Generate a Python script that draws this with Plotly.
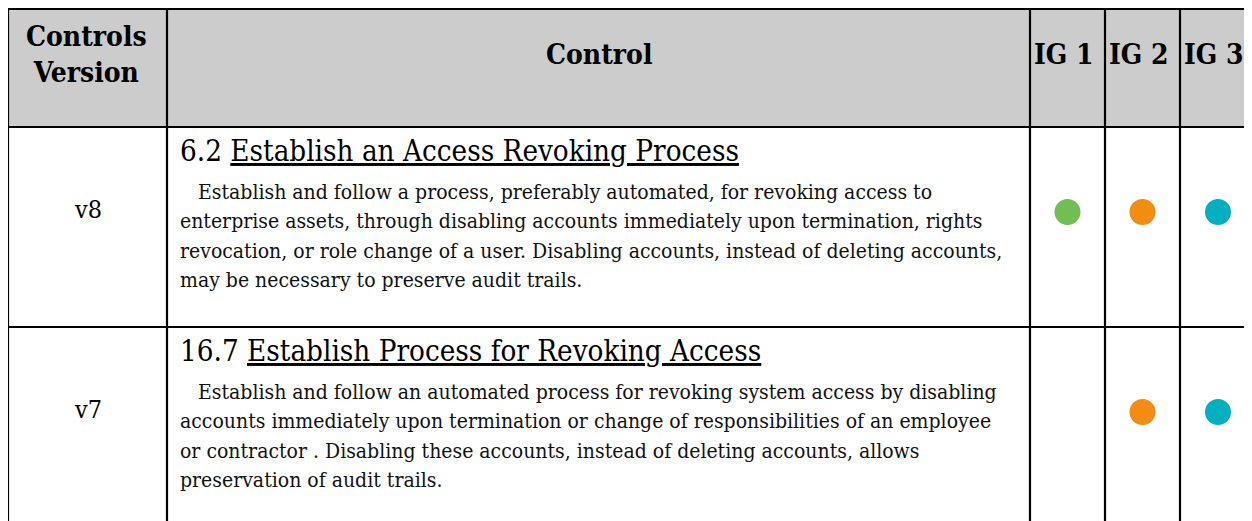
import plotly.graph_objects as go

# ---- data ----
header_labels = ["Controls<br>Version", "Control", "IG 1", "IG 2", "IG 3"]
versions = ["v8", "v7"]
control_ids = ["6.2", "16.7"]
control_titles = ["Establish an Access Revoking Process",
                  "Establish Process for Revoking Access"]
descriptions = [
    ["Establish and follow a process, preferably automated, for revoking access to",
     "enterprise assets, through disabling accounts immediately upon termination, rights",
     "revocation, or role change of a user. Disabling accounts, instead of deleting accounts,",
     "may be necessary to preserve audit trails."],
    ["Establish and follow an automated process for revoking system access by disabling",
     "accounts immediately upon termination or change of responsibilities of an employee",
     "or contractor . Disabling these accounts, instead of deleting accounts, allows",
     "preservation of audit trails."],
]
ig1 = [True, False]
ig2 = [True, True]
ig3 = [True, True]
ig_colors = ["#70bf54", "#f28c12", "#00b0c0"]

# ---- geometry (pixel space of the page; page body has an 8px margin) ----
W, H = 1252, 521
OFF = 8
col_edges = [8, 167, 1030, 1105, 1180, 1256]
row_edges = [9, 127, 327, 530]
SERIF = "DejaVu Serif Condensed, DejaVu Serif, serif"
BODY = 21
TITLE = 29.3
HDR = 28
LW = 2.2

fig = go.Figure()

shapes = []
shapes.append(dict(type="rect", xref="x", yref="y", x0=col_edges[0], x1=W + 5,
                   y0=row_edges[0], y1=row_edges[1], fillcolor="#cccccc",
                   line=dict(width=0), layer="below"))
for ye in row_edges[:3]:
    shapes.append(dict(type="line", xref="x", yref="y", x0=col_edges[0] - 1, x1=W + 5,
                       y0=ye, y1=ye, line=dict(color="black", width=LW)))
for xe in col_edges[:5]:
    shapes.append(dict(type="line", xref="x", yref="y", x0=xe, x1=xe,
                       y0=row_edges[0] - 1, y1=H + 5, line=dict(color="black", width=LW)))

ann = []
col_centers = [(col_edges[i] + col_edges[i + 1]) / 2 for i in range(5)]
ann.append(dict(x=col_centers[0] - 1, y=54, text="<b>" + header_labels[0] + "</b>",
                font=dict(family=SERIF, size=HDR, color="black"), showarrow=False,
                xanchor="center", yanchor="middle"))
for i in range(1, 5):
    ann.append(dict(x=col_centers[i] - (4 if i >= 2 else 0), y=54, text="<b>" + header_labels[i] + "</b>",
                    font=dict(family=SERIF, size=HDR, color="black"), showarrow=False,
                    xanchor="center", yanchor="middle"))

for r in range(2):
    top = row_edges[r + 1]
    ann.append(dict(x=col_centers[0], y=top + 82, text=versions[r],
                    font=dict(family=SERIF, size=25, color="black"), showarrow=False,
                    xanchor="center", yanchor="middle"))
    ann.append(dict(x=178, y=top + 24, text=control_ids[r] + " <u>" + control_titles[r] + "</u>",
                    font=dict(family=SERIF, size=TITLE, color="black"), showarrow=False,
                    xanchor="left", yanchor="middle"))
    for k, line in enumerate(descriptions[r]):
        x0 = 196 if k == 0 else 178
        ann.append(dict(x=x0, y=top + 65 + 29.3 * k, text=line,
                        font=dict(family=SERIF, size=BODY, color="#111111"), showarrow=False,
                        xanchor="left", yanchor="middle"))

# circles
for ci, flags in enumerate([ig1, ig2, ig3]):
    xs = [col_centers[2 + ci] for r in range(2) if flags[r]]
    ys = [row_edges[r + 1] + 85 for r in range(2) if flags[r]]
    fig.add_trace(go.Scatter(x=xs, y=ys, mode="markers",
                             marker=dict(size=26, color=ig_colors[ci], line=dict(width=0)),
                             hoverinfo="skip", showlegend=False))

fig.update_layout(width=W - OFF, height=H - OFF, margin=dict(l=0, r=0, t=0, b=0), autosize=False,
                  paper_bgcolor="white", plot_bgcolor="white",
                  shapes=shapes, annotations=ann, showlegend=False)
fig.update_xaxes(range=[OFF, W], visible=False, fixedrange=True)
fig.update_yaxes(range=[H, OFF], visible=False, fixedrange=True)
fig.write_html("out.html", config={"displayModeBar": False})
